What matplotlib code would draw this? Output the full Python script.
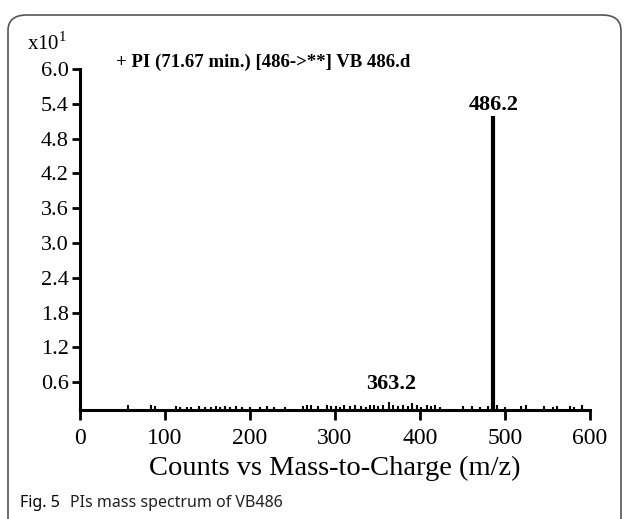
import matplotlib
matplotlib.use('Agg')
import matplotlib.pyplot as plt
from matplotlib.patches import FancyBboxPatch

plt.rcParams['font.family'] = 'Liberation Serif'
plt.rcParams['mathtext.fontset'] = 'custom'
plt.rcParams['mathtext.rm'] = 'Liberation Serif'

# m/z positions and intensities (x10^1 counts)
mz = [57, 84, 88, 113, 118, 126, 131, 140, 147, 154, 160, 165, 170, 177, 184, 190, 200,
      212, 220, 228, 241, 262, 267, 272, 280, 290, 295, 301, 306, 311, 318, 323, 330, 336,
      341, 346, 351, 356, 363.2, 368, 374, 380, 386, 391, 396, 401, 408, 413, 418, 423,
      451, 461, 470, 480, 486.2, 491, 500, 519, 525, 546, 556, 561, 576, 581, 591]
counts = [0.20, 0.20, 0.19, 0.19, 0.18, 0.18, 0.18, 0.19, 0.18, 0.18, 0.19, 0.18, 0.19, 0.18, 0.19, 0.18, 0.18,
          0.18, 0.19, 0.18, 0.18, 0.19, 0.20, 0.20, 0.19, 0.21, 0.19, 0.19, 0.18, 0.20, 0.19, 0.20, 0.19, 0.18,
          0.20, 0.20, 0.19, 0.21, 0.25, 0.21, 0.19, 0.20, 0.19, 0.24, 0.20, 0.18, 0.20, 0.19, 0.20, 0.18,
          0.19, 0.19, 0.18, 0.19, 5.19, 0.21, 0.18, 0.19, 0.20, 0.19, 0.18, 0.19, 0.19, 0.18, 0.20]
peak_labels = {363.2: 0.25, 486.2: 5.19}
yticks = [0.6, 1.2, 1.8, 2.4, 3.0, 3.6, 4.2, 4.8, 5.4, 6.0]
xticks = [0, 100, 200, 300, 400, 500, 600]

fig = plt.figure(figsize=(6.29, 5.19), dpi=100)

# rounded frame of the figure panel
frame = FancyBboxPatch((8 / 629, -0.2), 613 / 629, 1.2 - 15 / 519,
                       boxstyle='round,pad=0,rounding_size=0.03',
                       transform=fig.transFigure, fill=False,
                       edgecolor='#555555', linewidth=1.2)
fig.patches.append(frame)

ax = fig.add_axes([80 / 629, 109 / 519, 510 / 629, 341 / 519])
ax.vlines(mz, 0, counts, color='black', linewidth=1.5)
ax.vlines([486.2], 0, [5.19], color='black', linewidth=3)

for x, y in peak_labels.items():
    ax.annotate(f'{x:.1f}', (x, y), xytext=(2 if x < 400 else 0, 1 if x > 400 else 6),
                textcoords='offset points', ha='center', va='bottom',
                fontsize=16, fontweight='bold')

ax.set_xlim(0, 600)
ax.set_ylim(0.12, 6.0)
ax.set_xticks(xticks)
ax.set_yticks(yticks)
ax.set_yticklabels([f'{v:.1f}' for v in yticks], fontsize=16)
ax.set_xticklabels([str(v) for v in xticks], fontsize=17)
ax.tick_params(axis='y', direction='out', length=6, width=2, pad=2)
ax.tick_params(axis='x', direction='out', length=7, width=2, pad=6)
for s in ['top', 'right']:
    ax.spines[s].set_visible(False)
for s in ['left', 'bottom']:
    ax.spines[s].set_linewidth(2.2)

ax.set_xlabel('Counts vs Mass-to-Charge (m/z)', fontsize=20.5, labelpad=5)

fig.text(27 / 629, 1 - 50 / 519, 'x10$^{1}$', fontsize=15, va='baseline')
fig.text(116 / 629, 1 - 67 / 519, '+ PI (71.67 min.) [486->**] VB 486.d',
         fontsize=13.5, fontweight='bold', va='baseline')

fig.text(20 / 629, 1 - 507 / 519, 'Fig. 5', fontsize=11.5, fontweight='bold',
         family='Noto Sans', va='baseline')
fig.text(70 / 629, 1 - 507 / 519, 'PIs mass spectrum of VB486', fontsize=11.5,
         family='Noto Sans', va='baseline', color='#222222')

fig.savefig('out.png', dpi=100)
